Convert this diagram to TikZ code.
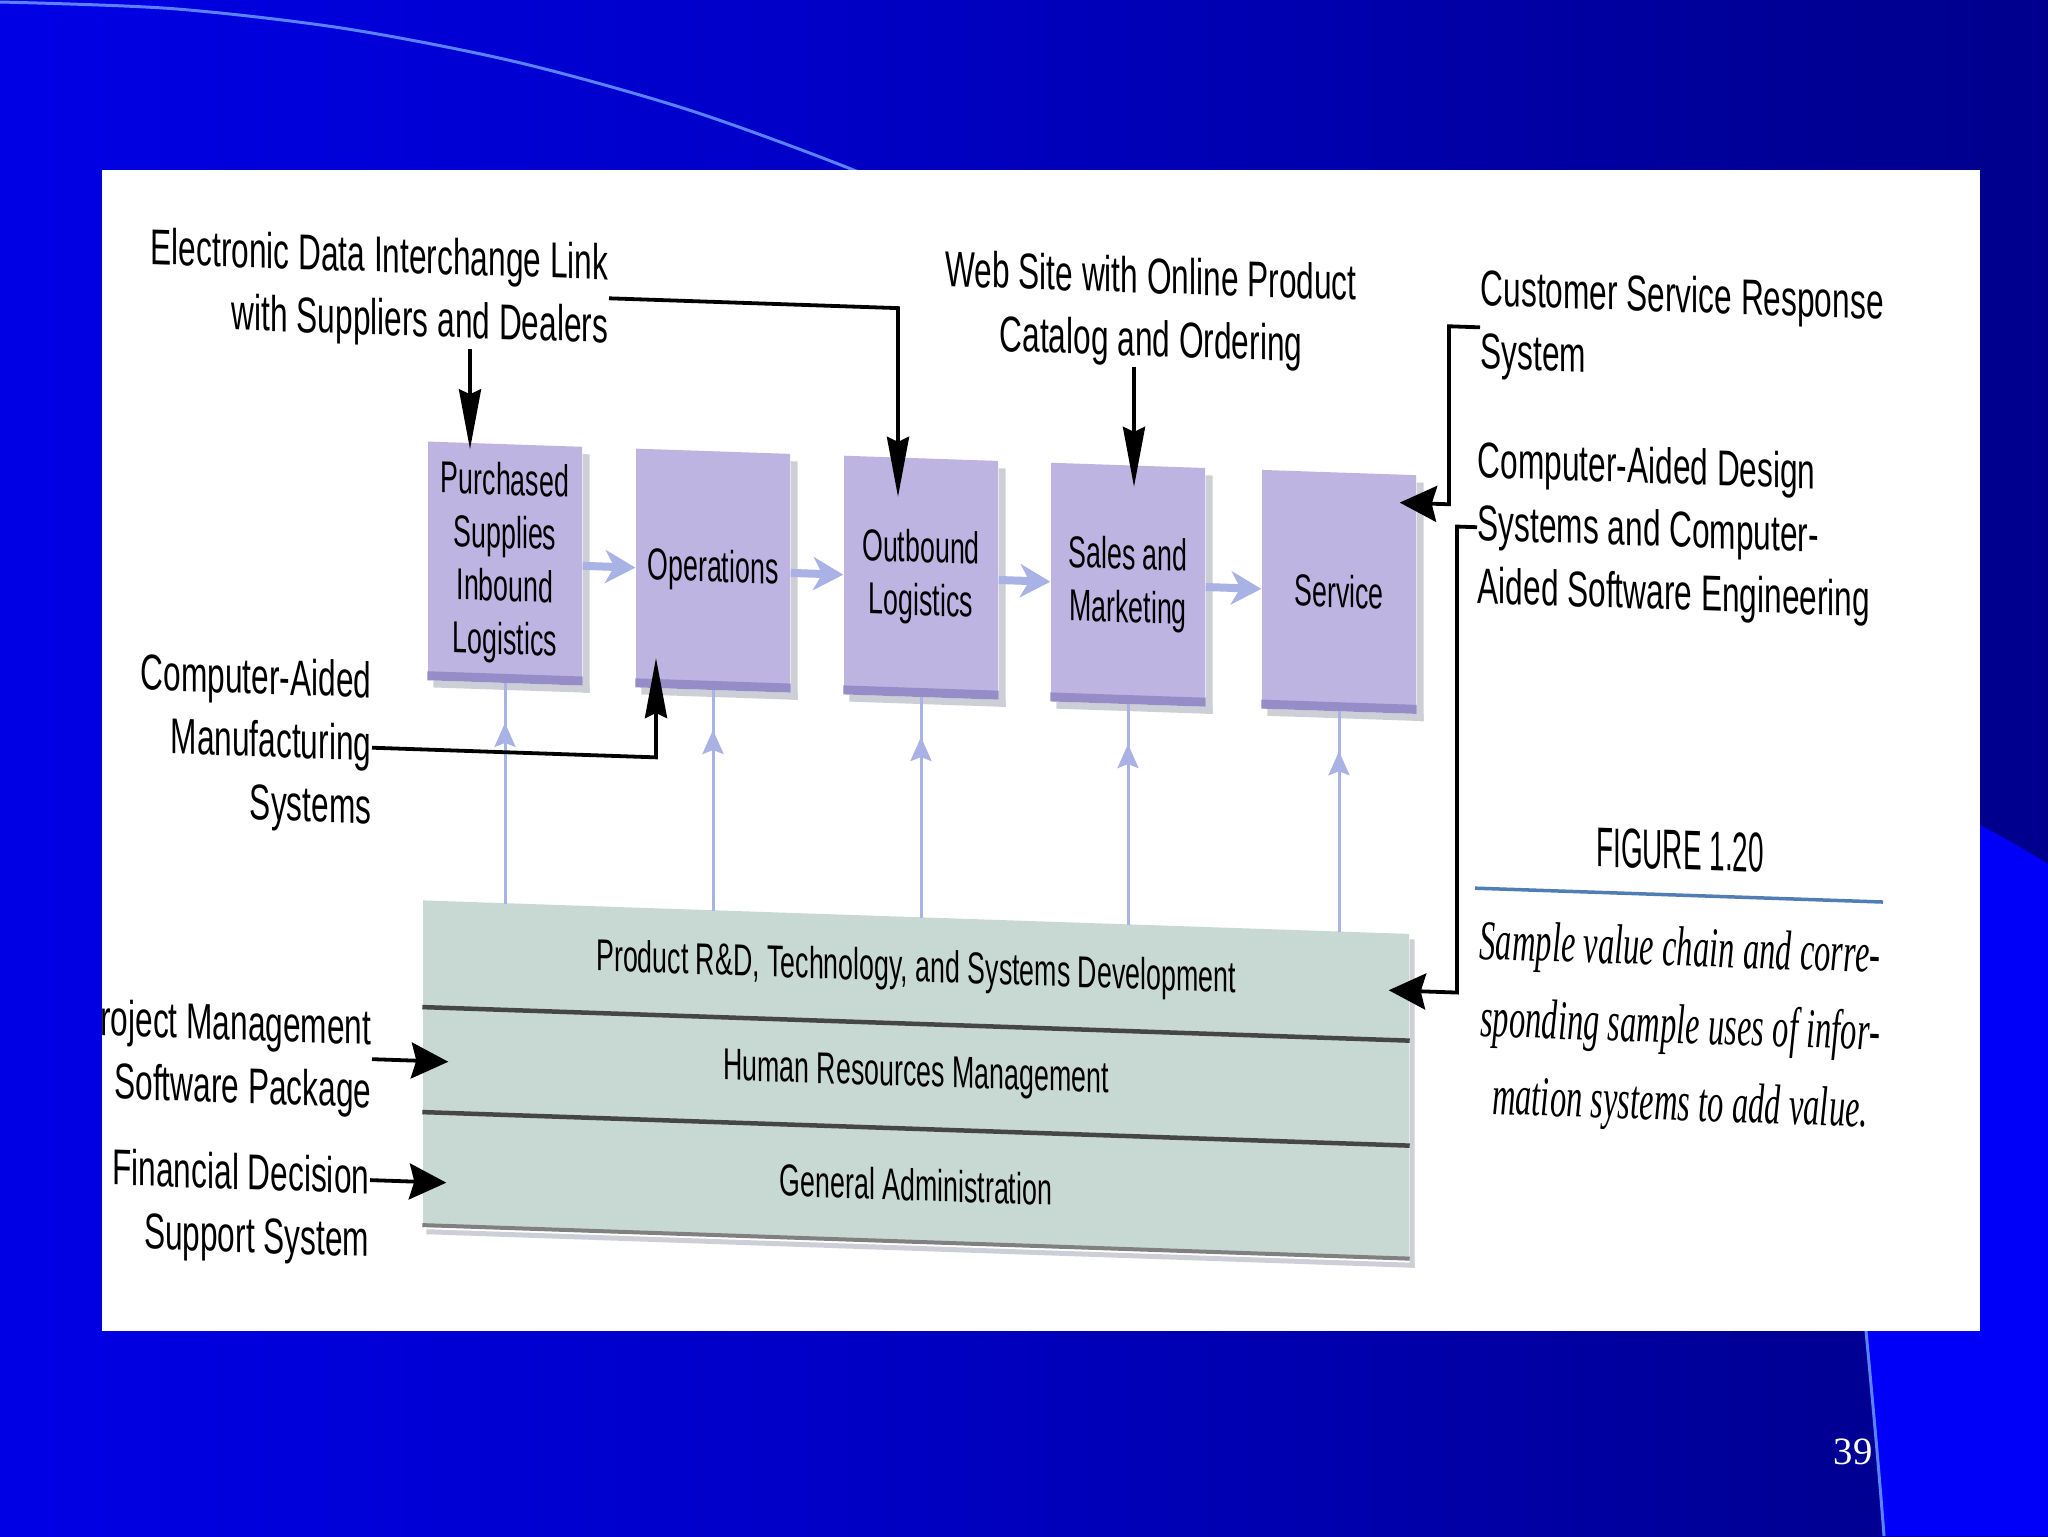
\documentclass[tikz,border=0pt]{standalone}
\usepackage{fontspec}
\setmainfont{Liberation Sans}
\newfontfamily\lblfont[FakeStretch=0.63]{Liberation Sans}
\newfontfamily\boxfont[FakeStretch=0.6]{Liberation Sans}
\newfontfamily\figfont[FakeStretch=0.5]{Liberation Sans}
\newfontfamily\capfont[FakeStretch=0.58]{Liberation Serif}
\newfontfamily\numfont{Liberation Serif}
\usetikzlibrary{arrows.meta,calc}
\definecolor{bgbright}{RGB}{0,0,250}
\definecolor{arcblue}{RGB}{90,130,255}
\definecolor{boxfill}{RGB}{190,180,226}
\definecolor{boxedge}{RGB}{150,140,200}
\definecolor{shadowgray}{RGB}{206,206,214}
\definecolor{bandfill}{RGB}{200,216,210}
\definecolor{divcol}{RGB}{70,70,70}
\definecolor{lightarrow}{RGB}{168,178,228}
\definecolor{rulecol}{RGB}{80,125,180}
\pgfdeclarehorizontalshading{slidebg}{100bp}{rgb(0bp)=(0.05,0.05,0.98); rgb(20bp)=(0,0,0.93); rgb(45bp)=(0,0,0.78); rgb(70bp)=(0,0,0.58); rgb(85bp)=(0,0,0.5); rgb(100bp)=(0,0,0.5)}
\tikzset{
  lbl/.style={font=\lblfont\fontsize{14.3}{17.9}\selectfont, inner sep=0pt, text=black},
  stage/.style={fill=boxfill, minimum width=15.4mm, minimum height=23.8mm, inner sep=0pt, align=center, font=\boxfont\fontsize{12.7}{15.1}\selectfont},
  row/.style={fill=bandfill, minimum width=98.6mm, inner sep=0pt, font=\boxfont\fontsize{12.7}{15.1}\selectfont},
  blk/.style={draw=black, line width=0.38mm},
  tipv/.style={-{Stealth[length=6mm,width=2.2mm,inset=0.5mm]}},
  tiph/.style={-{Stealth[length=3.7mm,width=3.6mm,inset=0.5mm]}},
  lightv/.style={draw=lightarrow, line width=0.3mm},
  lighttip/.style={-{Stealth[length=2.4mm,width=2.1mm,inset=0.4mm]}},
  lighth/.style={draw=lightarrow, line width=0.8mm, -{Stealth[length=3mm,width=3.3mm,inset=0.9mm]}},
  divline/.style={draw=divcol, line width=0.45mm},
  figf/.style={font=\figfont\fontsize{15.9}{18}\selectfont, inner sep=0pt},
  capf/.style={font=\capfont\itshape\fontsize{16}{22}\selectfont, inner sep=0pt}
}
\begin{document}
\begin{tikzpicture}[x=0.1mm,y=-0.1mm]
\useasboundingbox (0,0) rectangle (2048,1536);
% slide background
\fill[shading=slidebg] (0,0) rectangle (2048,1536);
\fill[bgbright] (1900,790) -- (1980,825) .. controls (2005,838) and (2027,851) .. (2048,864)
  -- (2048,1536) -- (1884,1536) .. controls (1879,1470) and (1872,1395) .. (1866,1331)
  -- (1850,1331) -- (1850,790) -- cycle;
\draw[arcblue, line width=0.3mm] (1866,1331) .. controls (1872,1395) and (1879,1470) .. (1884,1536);
\draw[arcblue, line width=0.3mm] plot[smooth] coordinates {(0,2) (172,8.6) (344,28.4) (517,62.1) (689,110) (861,173) (1000,236)};
% white panel
\fill[white] (102,170) rectangle (1980,1331);
\node[font=\numfont\fontsize{11}{13}\selectfont, text=white, inner sep=0pt] (pg) at (1853,1452) {39};
\begin{scope}
\clip (102,170) rectangle (1980,1331);
\begin{scope}[yslant=-0.034, transform shape]
% primary activities
\node[stage] (b1) at (505,546) {Purchased\\Supplies\\Inbound\\Logistics};
\node[stage] (b2) at (713,546) {Operations};
\node[stage] (b3) at (921,546) {Outbound\\Logistics};
\node[stage] (b4) at (1128,546) {Sales and\\Marketing};
\node[stage] (b5) at (1339,546) {Service};
\foreach \bx in {b1,b2,b3,b4,b5}{
  \fill[shadowgray] ($(\bx.north east)+(0,8)$) rectangle ($(\bx.south east)+(7,7)$);
  \fill[shadowgray] ($(\bx.south west)+(6,0)$) rectangle ($(\bx.south east)+(7,7)$);
  \fill[boxedge] ($(\bx.south west)+(0,-9)$) rectangle (\bx.south east);
}
% support activities
\node[row, minimum height=10.6mm] (r1) at (916,939) {Product R\&D, Technology, and Systems Development};
\node[row, minimum height=10.5mm] (r2) at (916,1044.5) {Human Resources Management};
\node[row, minimum height=11.3mm] (r3) at (916,1153.5) {General Administration};
\fill[shadowgray] ($(r1.north east)+(0,6)$) rectangle ($(r3.south east)+(5,9)$);
\fill[shadowgray] ($(r3.south west)+(4,4)$) rectangle ($(r3.south east)+(5,9)$);
\draw[divline] (r1.south west) -- (r1.south east);
\draw[divline] (r2.south west) -- (r2.south east);
\draw[draw=gray, line width=0.4mm] (r3.south west) -- (r3.south east);
% light flow arrows
\foreach \bx in {b1,b2,b3,b4,b5}{
  \draw[lightv] ($(\bx.south)+(0,221)$) -- (\bx.south);
  \draw[lightv, lighttip] ($(\bx.south)+(0,221)$) -- ($(\bx.south)+(0,40)$);
}
\draw[lighth] (b1.east) -- (b2.west);
\draw[lighth] (b2.east) -- (b3.west);
\draw[lighth] (b3.east) -- (b4.west);
\draw[lighth] (b4.east) -- (b5.west);
% labels
\node[lbl, anchor=north east, align=right] (edi) at (609,222) {Electronic Data Interchange Link\\with Suppliers and Dealers};
\node[lbl, anchor=north, align=center] (web) at (1151,217) {Web Site with Online Product\\Catalog and Ordering};
\node[lbl, anchor=north west, align=left] (csr) at (1480,218) {Customer Service Response\\System};
\node[lbl, anchor=west, align=left] (cad) at (1477,477) {Computer-Aided Design\\Systems and Computer-\\Aided Software Engineering};
\node[lbl, anchor=north east, align=right] (cam) at (372,648) {Computer-Aided\\Manufacturing\\Systems};
\node[lbl, anchor=north east, align=right] (pm) at (372,995) {Project Management\\Software Package};
\node[lbl, anchor=north east, align=right] (fin) at (370,1144) {Financial Decision\\Support System};
% connectors
\coordinate (ptip) at ($(b1.north)+(-35,7)$);
\draw[blk, tipv] (edi.south -| ptip) -- (ptip);
\draw[blk, tipv] (edi.east) -- ++(289,0) -- ($(b3.north)+(-23,40)$);
\coordinate (wtip) at ($(b4.north)+(6,22)$);
\draw[blk, tipv] (web.south -| wtip) -- (wtip);
\draw[blk, tiph] ($(csr.north west)+(0,59)$) -- ++(-31,0) -- ++(0,178) -- ($(b5.east)+(-17,-91)$);
\draw[blk, tiph] (cad.west) -- ++(-20,0) -- ++(0,466) -- ($(r1.east)+(-21,4)$);
\draw[blk, tipv] (cam.east) -- ++(284,0) -- ($(b2.south)+(-57,-30)$);
\coordinate (r2in) at ($(r2.west)+(26,2)$);
\draw[blk, tiph] (pm.east |- r2in) -- (r2in);
\coordinate (r3in) at ($(r3.west)+(24,14)$);
\draw[blk, tiph] (fin.east |- r3in) -- (r3in);
% caption
\node[figf] (fig) at (1680,793) {FIGURE 1.20};
\draw[rulecol, line width=0.35mm] (1475,838) -- (1883,838);
\node[capf, anchor=north, align=center] (cap) at (1680,869) {Sample value chain and corre-\\sponding sample uses of infor-\\mation systems to add value.};
\end{scope}
\end{scope}
\end{tikzpicture}
\end{document}
